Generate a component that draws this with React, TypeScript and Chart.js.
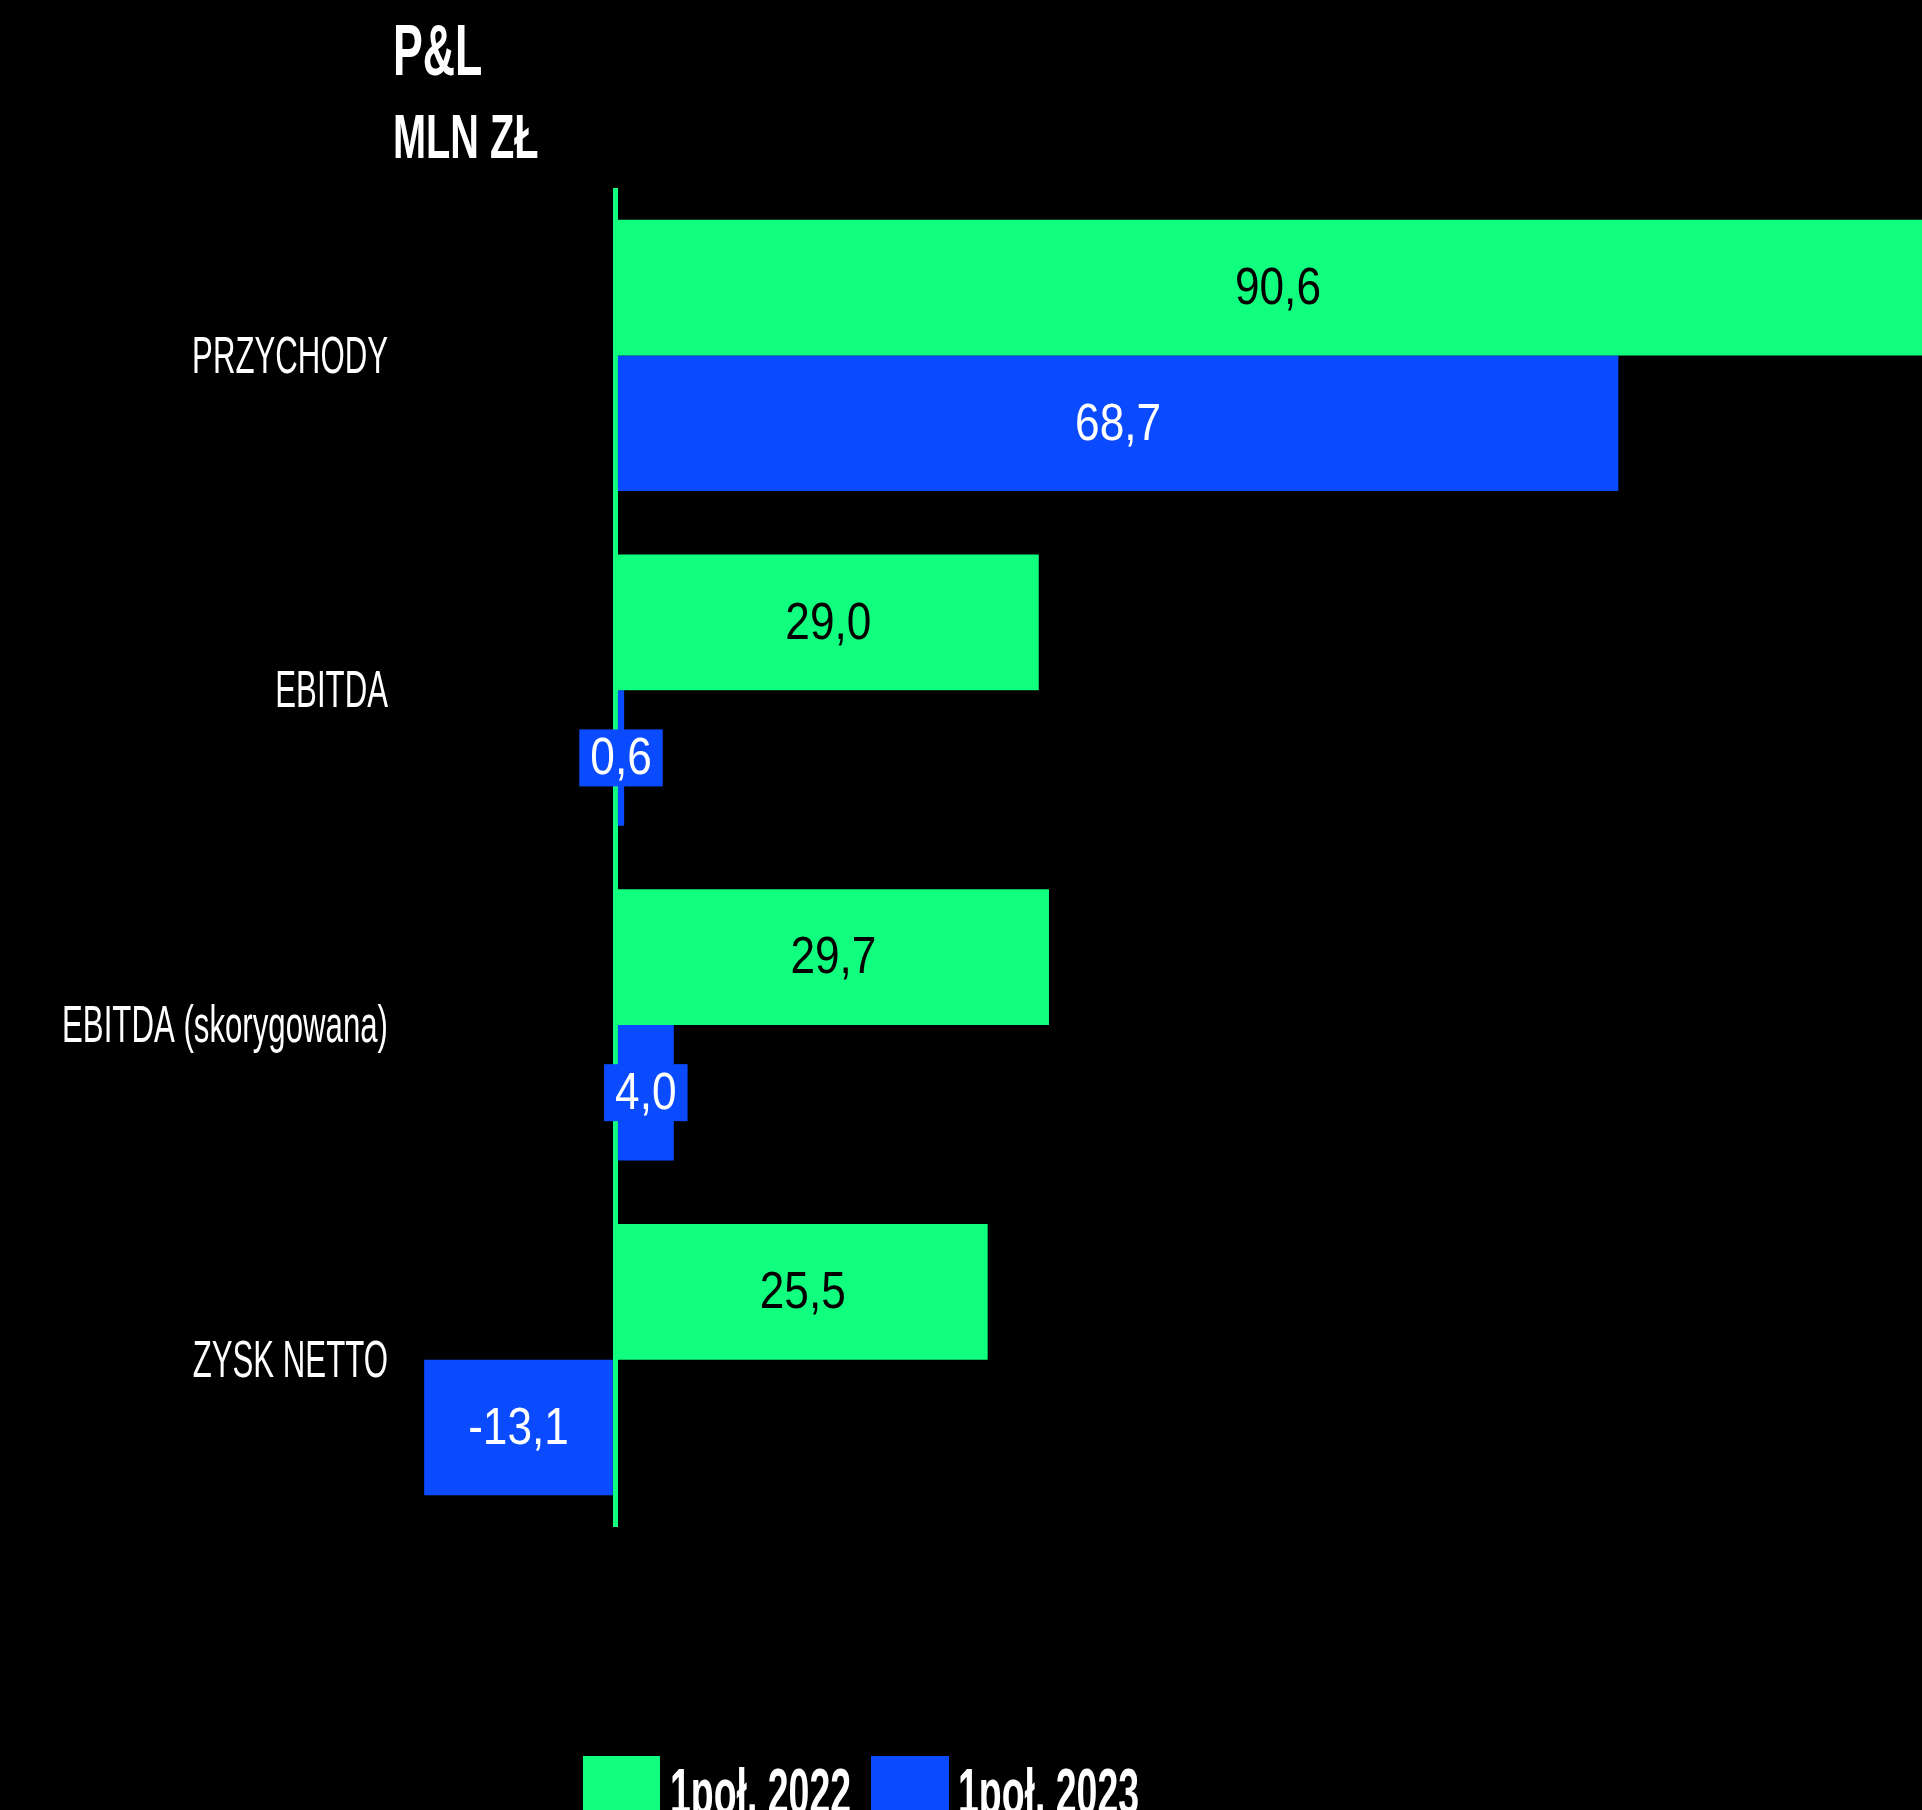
import React, { useEffect, useRef } from 'react';
import { Chart, registerables } from 'chart.js';

Chart.register(...registerables);

const categories = ['PRZYCHODY', 'EBITDA', 'EBITDA (skorygowana)', 'ZYSK NETTO'];
const values2022 = [90.6, 29.0, 29.7, 25.5];
const values2023 = [68.7, 0.6, 4.0, -13.1];
const seriesNames = ['1poł. 2022', '1poł. 2023'];
const titleLines = ['P&L', 'MLN ZŁ'];
const axisMin = -14;
const axisMax = 89.5;

const GREEN = '#10FF7E';
const BLUE = '#0A4BFF';
const FONT = '"Liberation Sans", Arial, sans-serif';

const W = 1922;
const H = 1810;

const valueLabels = {
  id: 'valueLabels',
  afterDraw(chart: any) {
    const ctx = chart.ctx;
    const sx = 0.85;
    ctx.save();
    ctx.font = `52px ${FONT}`;
    ctx.textAlign = 'center';
    ctx.textBaseline = 'middle';
    chart.data.datasets.forEach((ds: any, di: number) => {
      const meta = chart.getDatasetMeta(di);
      meta.data.forEach((el: any, i: number) => {
        const v = ds.data[i] as number;
        const { x, y, base } = el.getProps(['x', 'y', 'base'], true);
        const cx = (x + base) / 2;
        const text = v.toFixed(1).replace('.', ',');
        const w = ctx.measureText(text).width * sx;
        const len = Math.abs(x - base);
        if (len < w + 20) {
          ctx.fillStyle = ds.backgroundColor;
          ctx.fillRect(cx - w / 2 - 11, y - 28.5, w + 22, 57);
        }
        ctx.fillStyle = di === 0 ? '#000000' : '#FFFFFF';
        ctx.save();
        ctx.translate(cx, y + 2);
        ctx.scale(sx, 1);
        ctx.fillText(text, 0, 0);
        ctx.restore();
      });
    });
    ctx.restore();
  },
};

const categoryLabels = {
  id: 'categoryLabels',
  afterDraw(chart: any) {
    const ctx = chart.ctx;
    const yScale = chart.scales.y;
    ctx.save();
    ctx.font = `52px ${FONT}`;
    ctx.fillStyle = '#FFFFFF';
    ctx.textAlign = 'right';
    ctx.textBaseline = 'middle';
    (chart.data.labels as string[]).forEach((lab, i) => {
      const py = yScale.getPixelForTick(i);
      ctx.save();
      ctx.translate(chart.chartArea.left - 23, py + 3);
      ctx.scale(0.6, 1);
      ctx.fillText(lab, 0, 0);
      ctx.restore();
    });
    ctx.restore();
  },
};

export default function App() {
  const canvasRef = useRef<HTMLCanvasElement | null>(null);

  useEffect(() => {
    if (!canvasRef.current) return;
    const chart = new Chart(canvasRef.current, {
      type: 'bar',
      data: {
        labels: categories,
        datasets: [
          { label: seriesNames[0], data: values2022, backgroundColor: GREEN, borderWidth: 0 },
          { label: seriesNames[1], data: values2023, backgroundColor: BLUE, borderWidth: 0 },
        ],
      },
      options: {
        indexAxis: 'y',
        animation: false,
        responsive: true,
        maintainAspectRatio: false,
        layout: { padding: { top: 188, bottom: 283, left: 0, right: 0 } },
        datasets: { bar: { categoryPercentage: 0.81, barPercentage: 1.0 } },
        plugins: {
          legend: { display: false },
          tooltip: { enabled: false },
          title: { display: false },
        },
        scales: {
          x: {
            type: 'linear',
            min: axisMin,
            max: axisMax,
            z: 1,
            border: { display: false },
            ticks: { display: false },
            afterBuildTicks: (s: any) => {
              s.ticks = [{ value: 0 }];
            },
            grid: {
              drawTicks: false,
              lineWidth: 5,
              color: (c: any) => (c.tick && c.tick.value === 0 ? GREEN : 'rgba(0,0,0,0)'),
            },
          },
          y: {
            type: 'category',
            border: { display: false },
            grid: { display: false },
            ticks: { display: false },
            afterFit: (s: any) => {
              s.width = 411;
            },
          },
        },
      },
      plugins: [valueLabels, categoryLabels],
    } as any);
    return () => chart.destroy();
  }, []);

  const textBase: React.CSSProperties = {
    position: 'absolute',
    color: '#FFFFFF',
    fontFamily: FONT,
    fontWeight: 'bold',
    lineHeight: 1,
    whiteSpace: 'nowrap',
    transformOrigin: 'left top',
    margin: 0,
  };

  return (
    <div style={{ position: 'fixed', left: 0, top: 0, width: W, height: H, background: '#000000', overflow: 'hidden' }}>
      <div style={{ position: 'absolute', left: 0, top: 0, width: W, height: H }}>
        <canvas ref={canvasRef} />
      </div>
      <div style={{ ...textBase, left: 393, top: 14, fontSize: 72, transform: 'scaleX(0.62)' }}>{titleLines[0]}</div>
      <div style={{ ...textBase, left: 393, top: 105, fontSize: 63, transform: 'scaleX(0.63)' }}>{titleLines[1]}</div>
      <div style={{ position: 'absolute', left: 583, top: 1756, width: 77, height: 77, background: GREEN }} />
      <div style={{ ...textBase, left: 670, top: 1760, fontSize: 64, transform: 'scaleX(0.585)' }}>{seriesNames[0]}</div>
      <div style={{ position: 'absolute', left: 871, top: 1756, width: 78, height: 77, background: BLUE }} />
      <div style={{ ...textBase, left: 958, top: 1760, fontSize: 64, transform: 'scaleX(0.585)' }}>{seriesNames[1]}</div>
    </div>
  );
}
